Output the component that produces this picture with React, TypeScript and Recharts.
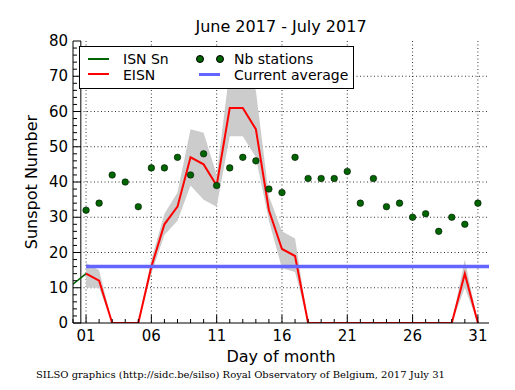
import React from "react";
import {
  Area,
  CartesianGrid,
  ComposedChart,
  Line,
  ReferenceLine,
  XAxis,
  YAxis,
} from "recharts";

const days = [0, 1, 2, 3, 4, 5, 6, 7, 8, 9, 10, 11, 12, 13, 14, 15, 16, 17, 18, 19, 20, 21, 22, 23, 24, 25, 26, 27, 28, 29, 30, 31];
// ISN Sn only known for the tail of the previous month
const isnSn = [11, 14];
// values for days 1..31
const eisn = [14, 12, 0, 0, 0, 16, 28, 33, 47, 45, 39, 61, 61, 55, 32, 21, 19, 0, 0, 0, 0, 0, 0, 0, 0, 0, 0, 0, 0, 14, 0];
const eisnLow = [10, 10, 0, 0, 0, 14, 25, 29, 39, 35, 33, 53, 53, 47, 29, 15.5, 14.5, 0, 0, 0, 0, 0, 0, 0, 0, 0, 0, 0, 0, 10, 0];
const eisnHigh = [17, 15, 0, 0, 0, 18, 31, 37, 55, 54, 42, 72, 72, 66, 36, 26, 24, 0, 0, 0, 0, 0, 0, 0, 0, 0, 0, 0, 0, 18, 0];
const nbStations = [32, 34, 42, 40, 33, 44, 44, 47, 42, 48, 39, 44, 47, 46, 38, 37, 47, 41, 41, 41, 43, 34, 41, 33, 34, 30, 31, 26, 30, 28, 34];
const currentAverage = 16;
const monthStart = 0.6;

const xMajor = [1, 6, 11, 16, 21, 26, 31];
const yTicks = [0, 2, 4, 6, 8, 10, 12, 14, 16, 18, 20, 22, 24, 26, 28, 30, 32, 34, 36, 38, 40, 42, 44, 46, 48, 50, 52, 54, 56, 58, 60, 62, 64, 66, 68, 70, 72, 74, 76, 78, 80];
const yMajor = [0, 10, 20, 30, 40, 50, 60, 70, 80];
const yGrid = [10, 20, 30, 40, 50, 60, 70];
const xMax = 31.85;

const rows = days.map((d) => ({
  day: d,
  isn: d < isnSn.length ? isnSn[d] : null,
  eisn: d >= 1 ? eisn[d - 1] : null,
  band: d >= 1 ? [eisnLow[d - 1], eisnHigh[d - 1]] : null,
  nb: d >= 1 ? nbStations[d - 1] : null,
}));

const FONT = "DejaVu Sans";
const pad = (v: number) => (v < 10 ? `0${v}` : `${v}`);

function BottomTick(props: any) {
  const { x, y, payload } = props;
  const major = xMajor.includes(payload.value);
  return (
    <g>
      <line x1={x} x2={x} y1={y} y2={y - (major ? 8 : 4)} stroke="#000" />
      {major && (
        <text x={x} y={y + 13} textAnchor="middle" dominantBaseline="central" fontFamily={FONT} fontSize={15} fill="#000">
          {pad(payload.value)}
        </text>
      )}
    </g>
  );
}

function TopTick(props: any) {
  const { x, y, payload } = props;
  const major = xMajor.includes(payload.value);
  return <line x1={x} x2={x} y1={y} y2={y + (major ? 8 : 4)} stroke="#000" />;
}

function LeftTick(props: any) {
  const { x, y, payload } = props;
  const major = yMajor.includes(payload.value);
  return (
    <g>
      <line x1={x} x2={x + (major ? 8 : 4)} y1={y} y2={y} stroke="#000" />
      {major && (
        <text x={x - 5} y={y} textAnchor="end" dominantBaseline="central" fontFamily={FONT} fontSize={15} fill="#000">
          {payload.value}
        </text>
      )}
    </g>
  );
}

function RightTick(props: any) {
  const { x, y, payload } = props;
  const major = yMajor.includes(payload.value);
  return <line x1={x} x2={x - (major ? 8 : 4)} y1={y} y2={y} stroke="#000" />;
}

function LegendBox() {
  const text: React.CSSProperties = {
    position: "absolute", fontFamily: FONT, fontSize: 14, lineHeight: "14px", whiteSpace: "nowrap",
  };
  const swatch = (color: string, w: number): React.CSSProperties => ({
    position: "absolute", width: 21, height: w, background: color,
  });
  const dot: React.CSSProperties = {
    position: "absolute", width: 6, height: 6, borderRadius: "50%", background: "#006400", border: "0.5px solid #000",
  };
  return (
    <div style={{ position: "absolute", left: 79, top: 46, width: 273, height: 41, border: "1px solid #000", background: "#fff" }}>
      <div style={{ ...swatch("#006400", 2), left: 8, top: 11 }} />
      <div style={{ ...text, left: 43, top: 5 }}>ISN Sn</div>
      <div style={{ ...swatch("#ff0000", 2), left: 8, top: 26 }} />
      <div style={{ ...text, left: 43, top: 21 }}>EISN</div>
      <div style={{ ...dot, left: 116, top: 8 }} />
      <div style={{ ...dot, left: 136, top: 8 }} />
      <div style={{ ...text, left: 154, top: 5 }}>Nb stations</div>
      <div style={{ ...swatch("#6464ff", 3), left: 119, top: 26 }} />
      <div style={{ ...text, left: 154, top: 21 }}>Current average</div>
    </div>
  );
}

export default function App() {
  return (
    <div style={{ position: "absolute", left: 0, top: 0, width: 515, height: 390, background: "#fff" }}>
      <ComposedChart width={515} height={390} data={rows} margin={{ top: 41, right: 26, bottom: 0, left: 0 }}>
        <CartesianGrid
          stroke="#000"
          strokeWidth={0.8}
          strokeDasharray="1 2.5"
          verticalValues={xMajor}
          horizontalValues={yGrid}
        />
        <XAxis
          dataKey="day"
          type="number"
          domain={[0, xMax]}
          ticks={days}
          interval={0}
          height={67}
          tickSize={0}
          tickMargin={0}
          tickLine={false}
          tick={<BottomTick />}
          axisLine={{ stroke: "#000" }}
          allowDataOverflow
        />
        <XAxis
          xAxisId="top"
          orientation="top"
          dataKey="day"
          type="number"
          domain={[0, xMax]}
          ticks={days}
          interval={0}
          height={0}
          tickSize={0}
          tickMargin={0}
          tickLine={false}
          tick={<TopTick />}
          axisLine={{ stroke: "#000" }}
          allowDataOverflow
        />
        <YAxis
          type="number"
          domain={[0, 80]}
          ticks={yTicks}
          interval={0}
          width={73}
          tickSize={0}
          tickMargin={0}
          tickLine={false}
          tick={<LeftTick />}
          axisLine={{ stroke: "#000" }}
          allowDataOverflow
        />
        <YAxis
          yAxisId="right"
          orientation="right"
          type="number"
          domain={[0, 80]}
          ticks={yTicks}
          interval={0}
          width={0}
          tickSize={0}
          tickMargin={0}
          tickLine={false}
          tick={<RightTick />}
          axisLine={{ stroke: "#000" }}
          allowDataOverflow
        />
        <Area dataKey="band" stroke="none" fill="#cccccc" fillOpacity={1} isAnimationActive={false} />
        <ReferenceLine x={monthStart} stroke="#000" strokeWidth={1} />
        <Line dataKey="isn" stroke="#006400" strokeWidth={1.5} dot={false} isAnimationActive={false} />
        <Line dataKey="eisn" stroke="#ff0000" strokeWidth={2} dot={false} isAnimationActive={false} />
        <Line
          dataKey="nb"
          stroke="none"
          dot={{ r: 3.3, fill: "#006400", stroke: "#000", strokeWidth: 0.5 }}
          isAnimationActive={false}
        />
        <ReferenceLine
          segment={[{ x: 1, y: currentAverage }, { x: xMax, y: currentAverage }]}
          stroke="#6464ff"
          strokeWidth={3.5}
        />
      </ComposedChart>
      <LegendBox />
      <div style={{ position: "absolute", left: 81, width: 400, top: 17, textAlign: "center", fontFamily: FONT, fontSize: 16, lineHeight: "20px" }}>
        June 2017 - July 2017
      </div>
      <div style={{ position: "absolute", left: 81, width: 400, top: 347, textAlign: "center", fontFamily: FONT, fontSize: 16, lineHeight: "20px" }}>
        Day of month
      </div>
      <div
        style={{
          position: "absolute", left: 32, top: 182, width: 200, textAlign: "center", fontFamily: FONT, fontSize: 16,
          lineHeight: "20px", transform: "translate(-50%, -50%) rotate(-90deg)", whiteSpace: "nowrap",
        }}
      >
        Sunspot Number
      </div>
      <div style={{ position: "absolute", left: 36, top: 369, fontFamily: "DejaVu Serif", fontSize: 10, lineHeight: "12px", whiteSpace: "nowrap" }}>
        SILSO graphics (http://sidc.be/silso) Royal Observatory of Belgium, 2017 July 31
      </div>
    </div>
  );
}
